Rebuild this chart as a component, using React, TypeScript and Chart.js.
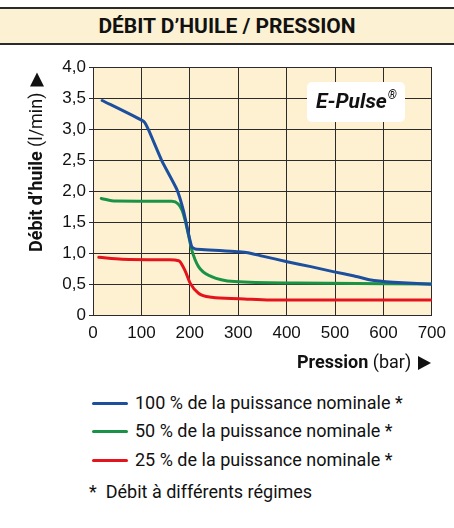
import React, { useEffect, useRef } from "react";
import { Chart, registerables } from "chart.js";

Chart.register(...registerables);

const blueX = [19, 105, 115, 142, 173, 187, 197, 204, 211, 302, 320, 350, 401, 450, 496, 540, 571, 620, 700];
const blueY = [3.46, 3.12, 2.98, 2.49, 2.03, 1.68, 1.32, 1.1, 1.065, 1.02, 1.005, 0.95, 0.86, 0.78, 0.7, 0.63, 0.57, 0.53, 0.495];
const greenX = [17, 47, 163, 176, 184, 190, 197, 204, 218, 245, 292, 421, 700];
const greenY = [1.88, 1.837, 1.835, 1.79, 1.69, 1.54, 1.3, 1.05, 0.78, 0.62, 0.54, 0.516, 0.5];
const redX = [12, 60, 157, 177, 191, 201, 218, 245, 302, 367, 700];
const redY = [0.93, 0.9, 0.89, 0.876, 0.7, 0.51, 0.35, 0.285, 0.263, 0.24, 0.24];

const seriesLabels = [
  "100 % de la puissance nominale *",
  "50 % de la puissance nominale *",
  "25 % de la puissance nominale *",
];
const seriesColors = ["#1c4f9e", "#1b9347", "#e5141c"];
const titleText = "DÉBIT D’HUILE / PRESSION";
const yTitleBold = "Débit d’huile";
const yTitleNormal = " (l/min)";
const xTitleBold = "Pression";
const xTitleNormal = " (bar)";
const badgeText = "E-Pulse";
const footnote = "*  Débit à différents régimes";

const NARROW = 'Roboto, sans-serif';
const SANS = '"Liberation Sans", Arial, sans-serif';
const CANVAS_TOP = 46;
const CANVAS_H = 334;

function toPoints(xs: number[], ys: number[]) {
  return xs.map((x, i) => ({ x, y: ys[i] }));
}

const decorPlugin = {
  id: "decor",
  beforeDraw(chart: any) {
    const { ctx, chartArea } = chart;
    ctx.save();
    ctx.fillStyle = "#fdf1d2";
    ctx.fillRect(chartArea.left, chartArea.top, chartArea.right - chartArea.left, chartArea.bottom - chartArea.top);
    ctx.restore();
  },
  afterDraw(chart: any) {
    const { ctx } = chart;
    ctx.save();
    ctx.translate(37, 252 - CANVAS_TOP);
    ctx.rotate(-Math.PI / 2);
    ctx.fillStyle = "#111";
    ctx.textBaseline = "middle";
    ctx.textAlign = "left";
    ctx.font = `bold 18px ${NARROW}`;
    ctx.fillText(yTitleBold, 0, 0);
    let w = ctx.measureText(yTitleBold).width;
    ctx.font = `18px ${NARROW}`;
    ctx.fillText(yTitleNormal, w, 0);
    w += ctx.measureText(yTitleNormal).width + 6;
    ctx.beginPath();
    ctx.moveTo(w, -7);
    ctx.lineTo(w + 14, 0);
    ctx.lineTo(w, 7);
    ctx.closePath();
    ctx.fill();
    ctx.restore();

    ctx.save();
    ctx.fillStyle = "#111";
    ctx.textBaseline = "middle";
    ctx.textAlign = "left";
    const xy = 363 - CANVAS_TOP;
    ctx.font = `bold 18px ${NARROW}`;
    ctx.fillText(xTitleBold, 297, xy);
    const xw = 297 + ctx.measureText(xTitleBold).width;
    ctx.font = `18px ${NARROW}`;
    ctx.fillText(xTitleNormal, xw, xy);
    ctx.beginPath();
    ctx.moveTo(418, xy - 7);
    ctx.lineTo(431, xy);
    ctx.lineTo(418, xy + 7);
    ctx.closePath();
    ctx.fill();
    ctx.restore();

    ctx.save();
    const bx = 307, by = 82 - CANVAS_TOP, bw = 98, bh = 40;
    ctx.fillStyle = "#ffffff";
    ctx.beginPath();
    (ctx as any).roundRect(bx, by, bw, bh, 5);
    ctx.fill();
    ctx.fillStyle = "#111";
    ctx.textBaseline = "middle";
    ctx.font = `italic bold 21px ${NARROW}`;
    const tw = ctx.measureText(badgeText).width;
    ctx.font = `italic bold 12px ${NARROW}`;
    const rw = ctx.measureText("®").width;
    const sx = bx + (bw - tw - rw) / 2;
    ctx.font = `italic bold 21px ${NARROW}`;
    ctx.fillText(badgeText, sx, by + bh / 2 + 1);
    ctx.font = `italic bold 12px ${NARROW}`;
    ctx.fillText("®", sx + tw + 1, by + bh / 2 - 6);
    ctx.restore();
  },
};

function fmtY(v: number) {
  if (v === 0) return "0";
  return v.toFixed(1).replace(".", ",");
}

export default function App() {
  const ref = useRef<HTMLCanvasElement | null>(null);
  useEffect(() => {
    document.body.style.margin = "0";
    const canvas = ref.current!;
    const xsList = [blueX, greenX, redX];
    const ysList = [blueY, greenY, redY];
    const chart = new Chart(canvas, {
      type: "line",
      data: {
        datasets: seriesLabels.map((label, i) => ({
          label,
          data: toPoints(xsList[i], ysList[i]),
          borderColor: seriesColors[i],
          backgroundColor: seriesColors[i],
          borderWidth: 3,
          pointRadius: 0,
          borderJoinStyle: "round" as const,
          borderCapStyle: "round" as const,
          cubicInterpolationMode: i === 0 ? ("default" as const) : ("monotone" as const),
          tension: i === 0 ? 0.15 : 0.4,
          fill: false,
        })),
      },
      options: {
        animation: false,
        responsive: false,
        maintainAspectRatio: false,
        devicePixelRatio: 1,
        layout: { padding: { top: 21, right: 17, left: 0, bottom: 0 } },
        plugins: { legend: { display: false }, tooltip: { enabled: false }, title: { display: false } },
        scales: {
          x: {
            type: "linear",
            min: 0,
            max: 700,
            ticks: {
              stepSize: 100,
              color: "#111",
              font: { family: SANS, size: 17 },
              padding: 8,
              maxRotation: 0,
              autoSkip: false,
            },
            grid: { color: "#2b2b2b", lineWidth: 1, drawTicks: false },
            border: { color: "#2b2b2b", width: 1 },
            afterFit(s: any) {
              s.height = CANVAS_H - (315 - CANVAS_TOP);
            },
          },
          y: {
            min: 0,
            max: 4,
            ticks: {
              stepSize: 0.5,
              color: "#111",
              font: { family: SANS, size: 17 },
              padding: 3,
              callback: (v: any) => fmtY(Number(v)),
            },
            grid: { color: "#2b2b2b", lineWidth: 1, tickLength: 4 },
            border: { color: "#2b2b2b", width: 1 },
            afterFit(s: any) {
              s.width = 93;
            },
          },
        },
      },
      plugins: [decorPlugin],
    });
    return () => chart.destroy();
  }, []);

  const legendRows = [403, 431, 460];
  return (
    <div style={{ position: "absolute", left: 0, top: 0, width: 454, height: 528, background: "#fff", overflow: "hidden" }}>
      <div
        style={{
          position: "absolute",
          left: 0,
          top: 7,
          width: 454,
          height: 34,
          background: "#fdf1d4",
          borderTop: "2px solid #2a2a2a",
          borderBottom: "2px solid #2a2a2a",
          display: "flex",
          alignItems: "center",
          justifyContent: "center",
          fontFamily: NARROW,
          fontWeight: "bold",
          fontSize: 21,
          color: "#111",
        }}
      >
        {titleText}
      </div>
      <canvas ref={ref} width={454} height={CANVAS_H} style={{ position: "absolute", left: 0, top: CANVAS_TOP, width: 454, height: CANVAS_H }} />
      {seriesLabels.map((label, i) => (
        <div key={label} style={{ position: "absolute", left: 0, top: legendRows[i] - 12, height: 24, width: 454 }}>
          <div style={{ position: "absolute", left: 92, top: 10.5, width: 36, height: 3, background: seriesColors[i], borderRadius: 1.5 }} />
          <div style={{ position: "absolute", left: 135, top: 0, lineHeight: "24px", fontFamily: NARROW, fontSize: 18, color: "#111", whiteSpace: "nowrap" }}>
            {label}
          </div>
        </div>
      ))}
      <div style={{ position: "absolute", left: 89, top: 480, lineHeight: "24px", fontFamily: NARROW, fontSize: 18, color: "#111", whiteSpace: "pre" }}>
        {footnote}
      </div>
    </div>
  );
}
